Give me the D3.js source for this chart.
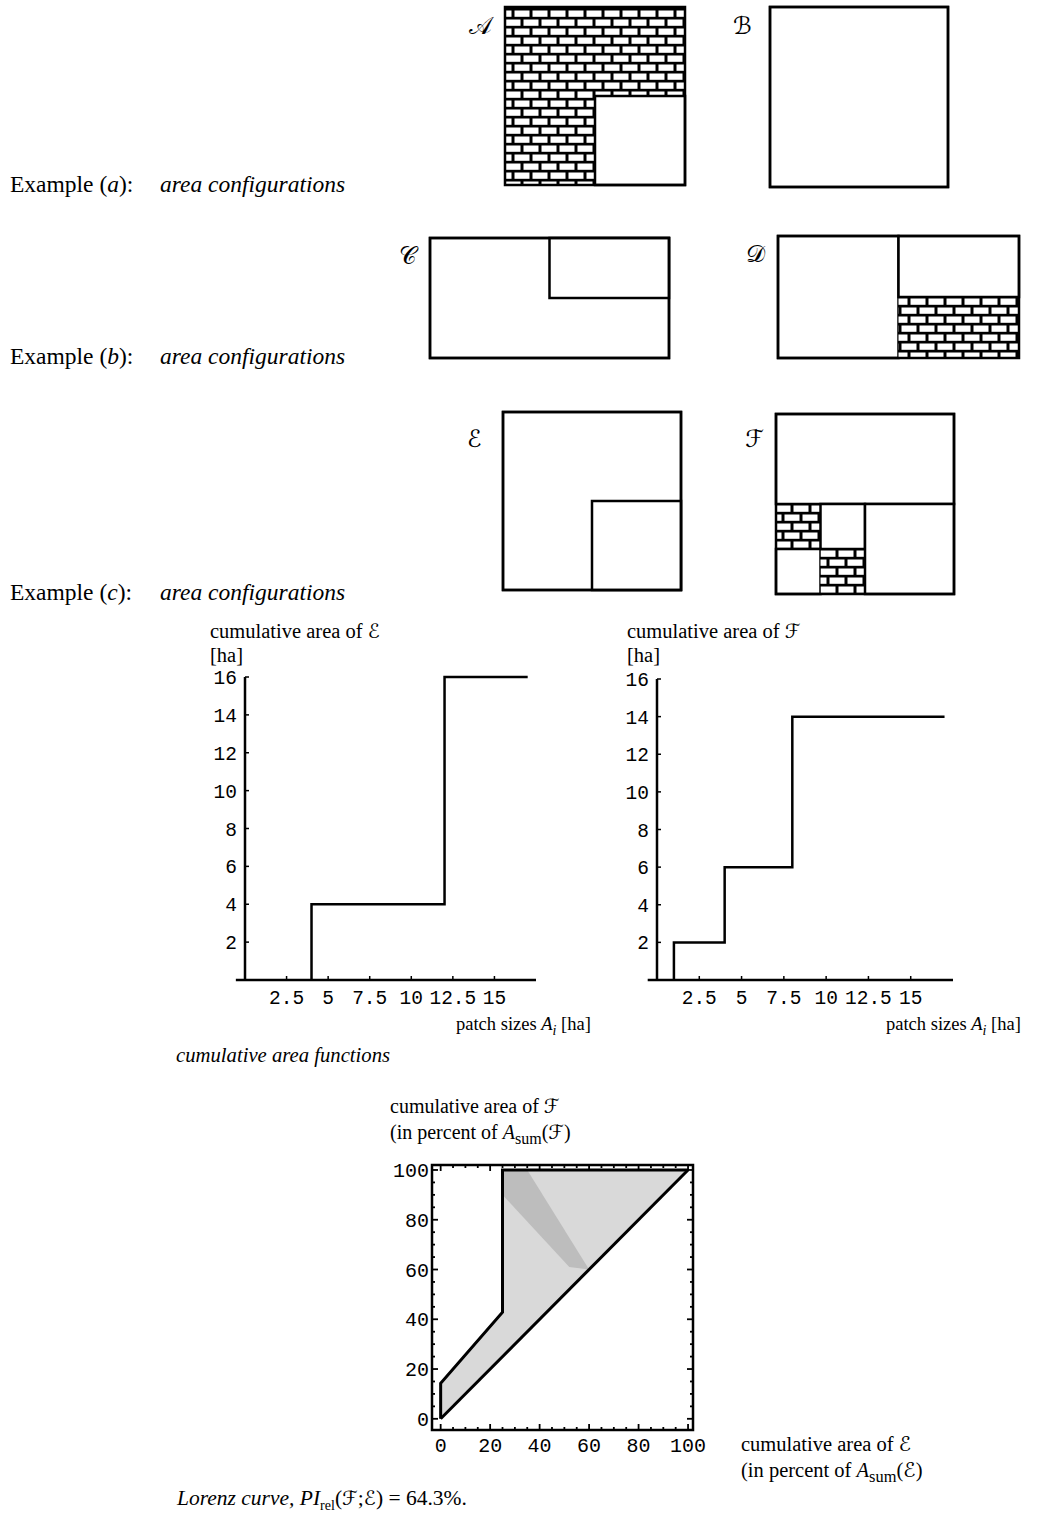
<!DOCTYPE html>
<html><head><meta charset="utf-8">
<script src="https://cdn.jsdelivr.net/npm/d3@7"></script>
<style>
body{margin:0;background:#fff}
text{font-family:"Liberation Serif","Times New Roman",serif;fill:#000}
.mono{font-family:"Liberation Mono","Courier New",monospace}
.scr{font-family:"DejaVu Serif","DejaVu Sans",serif}
</style>
</head><body>
<svg id="c" width="1045" height="1524" xmlns="http://www.w3.org/2000/svg"></svg>
<script>
// ---------------- data ----------------
// area configurations: [col, row, width, height, kind] in grid units
const configA = [[0,0,4,2,"brick"],[0,2,2,2,"brick"],[2,2,2,2,"open"]];
const configB = [[0,0,4,4,"open"]];
const configC = [[0,0,4,2,"open"],[2,0,2,1,"open"]];
const configD = [[0,0,2,2,"open"],[2,0,2,1,"open"],[2,1,2,1,"brick"]];
const configE = [[0,0,4,4,"open"],[2,2,2,2,"open"]];
const configF = [[0,0,4,2,"open"],[0,2,1,1,"brick"],[1,2,1,1,"open"],[0,3,1,1,"open"],[1,3,1,1,"brick"],[2,2,2,2,"open"]];
const configLabels = ["𝒜","ℬ","𝒞","𝒟","ℰ","ℱ"];
const configGrid = [[4,4],[4,4],[4,2],[4,2],[4,4],[4,4]];

// patch sizes [ha]
const patchesE = [4, 12];
const patchesF = [1, 1, 4, 8];
const cumXEnd = 17;
const cumXTicks = [2.5, 5, 7.5, 10, 12.5, 15];
const cumYTicks = [2, 4, 6, 8, 10, 12, 14, 16];
const lorenzTicks = [0, 20, 40, 60, 80, 100];
const lorenzMinor = d3.range(0, 101, 5);
const piRel = "64.3%";
// darker band visible inside the shaded Lorenz region (percent coords)
const bandPoly = [[25,100],[35,100],[60,60],[52,61],[25,90]];

// ---------------- drawing ----------------
const svg = d3.select("#c");
svg.append("rect").attr("width",1045).attr("height",1524).attr("fill","#fff");
const defs = svg.append("defs");
const pat = defs.append("pattern").attr("id","brick").attr("patternUnits","userSpaceOnUse")
  .attr("width",18).attr("height",18);
pat.append("rect").attr("width",18).attr("height",18).attr("fill","#000");
[[1.5,1.5],[-7.5,10.5],[10.5,10.5]].forEach(([x,y])=>pat.append("rect").attr("x",x).attr("y",y)
  .attr("width",15).attr("height",6.3).attr("fill","#fff"));

const configs = [configA,configB,configC,configD,configE,configF];
const boxes = [[505,7,180,178],[770,7,178,180],[430,238,239,120],[778,236,241,122],[503,412,178,178],[776,414,178,180]];
const labelPos = [[469,34],[733,34],[399,264],[746,262],[467,447],[745,447]];

configs.forEach((cfg,i)=>{
  const [bx,by,bw,bh] = boxes[i];
  const [cols,rows] = configGrid[i];
  const x = d3.scaleLinear().domain([0,cols]).range([bx,bx+bw]);
  const y = d3.scaleLinear().domain([0,rows]).range([by,by+bh]);
  const g = svg.append("g");
  g.selectAll("rect.p").data(cfg).join("rect")
    .attr("x",d=>x(d[0])).attr("y",d=>y(d[1]))
    .attr("width",d=>x(d[0]+d[2])-x(d[0])).attr("height",d=>y(d[1]+d[3])-y(d[1]))
    .attr("fill",d=>d[4]==="brick"?"url(#brick)":"#fff")
    .attr("stroke",d=>d[4]==="brick"?"none":"#000").attr("stroke-width",2.5);
  g.append("rect").attr("x",x(0)).attr("y",y(0)).attr("width",x(cols)-x(0)).attr("height",y(rows)-y(0))
    .attr("fill","none").attr("stroke","#000").attr("stroke-width",2.5);
  svg.append("text").attr("class","scr").attr("x",labelPos[i][0]).attr("y",labelPos[i][1])
    .attr("font-size",24).text(configLabels[i]);
});

// Example captions
function example(letter, yb){
  const t = svg.append("text").attr("x",10).attr("y",yb).attr("font-size",23.5);
  t.append("tspan").text("Example (");
  t.append("tspan").attr("font-style","italic").text(letter);
  t.append("tspan").text("):");
  svg.append("text").attr("x",160).attr("y",yb).attr("font-size",23.5).attr("font-style","italic").text("area configurations");
}
example("a",192); example("b",364); example("c",600);

// cumulative area functions
function stepPoints(p){
  const sizes = Array.from(new Set(p)).sort((a,b)=>a-b);
  const pts = []; let c = 0;
  sizes.forEach(s=>{ const add = d3.sum(p.filter(v=>v===s)); pts.push([s,c]); c+=add; pts.push([s,c]); });
  pts.push([cumXEnd,c]);
  return pts;
}
function cumChart(p, x0, x1, y0, y1, letter, lx, xlabX){
  const x = d3.scaleLinear().domain([0,17.5]).range([x0,x1]);
  const y = d3.scaleLinear().domain([0,16]).range([y0,y1]);
  const g = svg.append("g");
  g.append("line").attr("x1",x(-0.55)).attr("x2",x(17.5)).attr("y1",y(0)).attr("y2",y(0)).attr("stroke","#000").attr("stroke-width",2.5);
  g.append("line").attr("x1",x(0)).attr("x2",x(0)).attr("y1",y(0)).attr("y2",y(16)).attr("stroke","#000").attr("stroke-width",2.5);
  g.selectAll("line.xt").data(cumXTicks).join("line").attr("x1",d=>x(d)).attr("x2",d=>x(d))
    .attr("y1",y(0)).attr("y2",y(0)-4).attr("stroke","#000").attr("stroke-width",1.5);
  g.selectAll("line.yt").data(cumYTicks).join("line").attr("x1",x(0)).attr("x2",x(0)+4)
    .attr("y1",d=>y(d)).attr("y2",d=>y(d)).attr("stroke","#000").attr("stroke-width",1.5);
  g.selectAll("text.xl").data(cumXTicks).join("text").attr("class","mono").attr("font-size",19.5)
    .attr("text-anchor","middle").attr("x",d=>x(d)).attr("y",y(0)+24).text(d=>d);
  g.selectAll("text.yl").data(cumYTicks).join("text").attr("class","mono").attr("font-size",19.5)
    .attr("text-anchor","end").attr("x",x(0)-8).attr("y",d=>y(d)+7).text(d=>d);
  g.append("path").attr("d",d3.line().x(d=>x(d[0])).y(d=>y(d[1]))(stepPoints(p)))
    .attr("fill","none").attr("stroke","#000").attr("stroke-width",2.5);
  const t = svg.append("text").attr("x",lx).attr("y",638).attr("font-size",20.5);
  t.append("tspan").text("cumulative area of ");
  t.append("tspan").attr("class","scr").attr("font-size",20).text(letter);
  svg.append("text").attr("x",lx).attr("y",662).attr("font-size",20.5).text("[ha]");
  const xl = svg.append("text").attr("x",xlabX).attr("y",1030).attr("font-size",18.5);
  xl.append("tspan").text("patch sizes ");
  xl.append("tspan").attr("font-style","italic").text("A");
  xl.append("tspan").attr("font-style","italic").attr("font-size",14).attr("dy",5).text("i");
  xl.append("tspan").attr("dy",-5).text(" [ha]");
}
cumChart(patchesE, 245, 536, 980, 677, configLabels[4], 210, 456);
cumChart(patchesF, 657, 953, 980, 679, configLabels[5], 627, 886);
svg.append("text").attr("x",176).attr("y",1062).attr("font-size",20.7).attr("font-style","italic").text("cumulative area functions");

// Lorenz curve
const sumE = d3.sum(patchesE), sumF = d3.sum(patchesF);
const thresholds = Array.from(new Set(patchesE.concat(patchesF))).sort((a,b)=>a-b);
const lorenz = [[0,0]].concat(thresholds.map(t=>[
  d3.sum(patchesE.filter(v=>v<=t))/sumE*100,
  d3.sum(patchesF.filter(v=>v<=t))/sumF*100]));
const lx = d3.scaleLinear().domain([-3.5,102]).range([432,693]);
const ly = d3.scaleLinear().domain([-4.5,102]).range([1430,1165]);
const lg = svg.append("g");
const ll = d3.line().x(d=>lx(d[0])).y(d=>ly(d[1]));
lg.append("path").attr("d",ll(lorenz)+"Z").attr("fill","#d9d9d9");
lg.append("path").attr("d",ll(bandPoly)+"Z").attr("fill","#bdbdbd");
lg.append("path").attr("d",ll(lorenz)).attr("fill","none").attr("stroke","#000").attr("stroke-width",3);
lg.append("path").attr("d",ll([[0,0],[100,100]])).attr("fill","none").attr("stroke","#000").attr("stroke-width",3);
lg.append("rect").attr("x",lx(-3.5)).attr("y",ly(102)).attr("width",lx(102)-lx(-3.5)).attr("height",ly(-4.5)-ly(102))
  .attr("fill","none").attr("stroke","#000").attr("stroke-width",2.5);
const fx0 = lx(-3.5), fx1 = lx(102), fy0 = ly(-4.5), fy1 = ly(102);
lorenzMinor.forEach(v=>{
  const len = (v%20===0)?6:3;
  lg.append("line").attr("x1",lx(v)).attr("x2",lx(v)).attr("y1",fy0).attr("y2",fy0-len).attr("stroke","#000").attr("stroke-width",1.8);
  lg.append("line").attr("x1",lx(v)).attr("x2",lx(v)).attr("y1",fy1).attr("y2",fy1+len).attr("stroke","#000").attr("stroke-width",1.8);
  lg.append("line").attr("y1",ly(v)).attr("y2",ly(v)).attr("x1",fx0).attr("x2",fx0+len).attr("stroke","#000").attr("stroke-width",1.8);
  lg.append("line").attr("y1",ly(v)).attr("y2",ly(v)).attr("x1",fx1).attr("x2",fx1-len).attr("stroke","#000").attr("stroke-width",1.8);
});
lg.selectAll("text.lx").data(lorenzTicks).join("text").attr("class","mono").attr("font-size",20)
  .attr("text-anchor","middle").attr("x",d=>lx(d)).attr("y",1452).text(d=>d);
lg.selectAll("text.ly").data(lorenzTicks).join("text").attr("class","mono").attr("font-size",20)
  .attr("text-anchor","end").attr("x",fx0-3).attr("y",d=>ly(d)+7).text(d=>d);

function pctLabel(x, y1, letter, fs){
  const t = svg.append("text").attr("x",x).attr("y",y1).attr("font-size",fs);
  t.append("tspan").text("cumulative area of ");
  t.append("tspan").attr("class","scr").attr("font-size",fs).text(letter);
  const t2 = svg.append("text").attr("x",x).attr("y",y1+26).attr("font-size",fs);
  t2.append("tspan").text("(in percent of ");
  t2.append("tspan").attr("font-style","italic").text("A");
  t2.append("tspan").attr("font-size",fs*0.8).attr("dy",5).text("sum");
  t2.append("tspan").attr("dy",-5).text("(");
  t2.append("tspan").attr("class","scr").attr("font-size",fs).text(letter);
  t2.append("tspan").text(")");
}
pctLabel(390, 1113, configLabels[5], 20);
pctLabel(741, 1451, configLabels[4], 20.5);

const cap = svg.append("text").attr("x",177).attr("y",1505).attr("font-size",21.5);
cap.append("tspan").attr("font-style","italic").text("Lorenz curve,  PI");
cap.append("tspan").attr("font-size",14).attr("dy",5).text("rel");
cap.append("tspan").attr("dy",-5).text("(");
cap.append("tspan").attr("class","scr").attr("font-size",20).text(configLabels[5]);
cap.append("tspan").text(";");
cap.append("tspan").attr("class","scr").attr("font-size",20).text(configLabels[4]);
cap.append("tspan").text(") = " + piRel + ".");
</script>
</body></html>
